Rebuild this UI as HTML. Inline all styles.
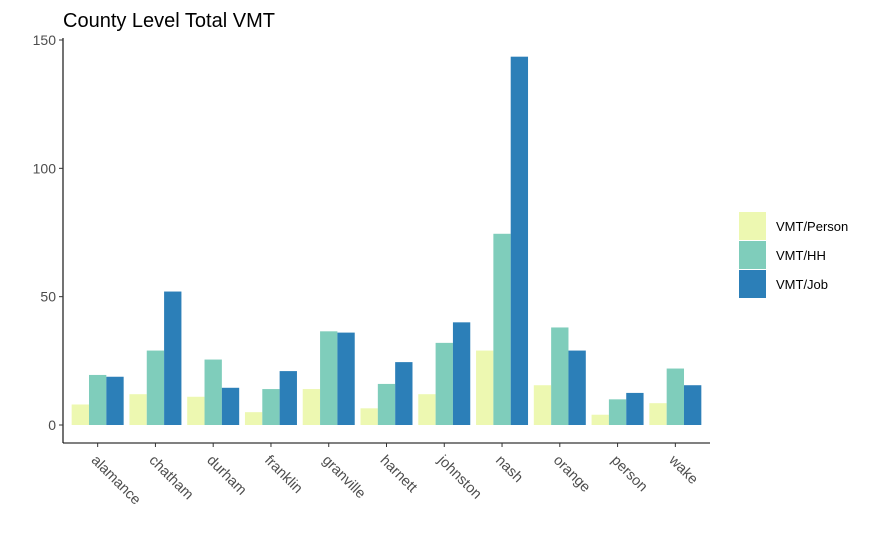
<!DOCTYPE html>
<html><head><meta charset="utf-8"><style>
body{margin:0;background:#fff;font-family:"Liberation Sans",Arial,sans-serif}
</style></head><body>
<svg id="c" width="875" height="540" xmlns="http://www.w3.org/2000/svg">
<rect width="875" height="540" fill="#fff"/>
<text x="63" y="27" font-size="20" fill="#000">County Level Total VMT</text>
<g id="plot"></g>
<g id="legend"></g>
</svg>
<script>
const categories=["alamance","chatham","durham","franklin","granville","harnett","johnston","nash","orange","person","wake"];
const vmtPerson=[8,12,11,5,14,6.5,12,29,15.5,4,8.5];
const vmtHH=[19.5,29,25.5,14,36.5,16,32,74.5,38,10,22];
const vmtJob=[18.8,52,14.5,21,36,24.5,40,143.5,29,12.5,15.5];
const seriesNames=["VMT/Person","VMT/HH","VMT/Job"];
const yTicks=[0,50,100,150];
const colors=["#EDF8B1","#7FCDBB","#2C7FB8"];
const NS="http://www.w3.org/2000/svg";
const L=63,R=710,B=443,T=38;
const y=v=>425-v*(385/150);
const band=(R-L)/(categories.length+0.2);
const x=i=>L+(0.6+i)*band;
const g=document.getElementById('plot');
function mk(t,a,p){const e=document.createElementNS(NS,t);for(const k in a)e.setAttribute(k,a[k]);(p||g).appendChild(e);return e;}
const series=[vmtPerson,vmtHH,vmtJob];
const bw=band*0.9/3;
series.forEach((s,si)=>{s.forEach((v,i)=>{
 const r=mk('rect',{x:x(i)-band*0.45+si*bw,y:y(v),width:bw,height:y(0)-y(v),fill:colors[si]});
 
 
});});
const ax=mk('line',{x1:L,y1:T,x2:L,y2:B,stroke:'#000','stroke-width':1.1});


const axx=mk('line',{x1:L,y1:B,x2:R,y2:B,stroke:'#000','stroke-width':1.1});


yTicks.forEach(t=>{
 mk('line',{x1:L-4,y1:y(t),x2:L,y2:y(t),stroke:'#333'});
 const tx=mk('text',{x:L-7,y:y(t)+5,'text-anchor':'end','font-size':14,fill:'#4d4d4d'});
 tx.textContent=t;
 
 
});
categories.forEach((c,i)=>{
 mk('line',{x1:x(i),y1:B,x2:x(i),y2:B+4,stroke:'#333'});
 const tx=mk('text',{x:x(i)-7,y:B+18,'font-size':14.5,fill:'#4d4d4d',transform:`rotate(45 ${x(i)-7} ${B+18})`});
 tx.textContent=c;
 
 
});
const lg=document.getElementById('legend');
seriesNames.forEach((n,i)=>{
 const r=mk('rect',{x:739,y:212+i*29,width:27,height:28,fill:colors[i]},lg);
 
 
 const t=mk('text',{x:776,y:231+i*29,'font-size':13,fill:'#000'},lg);
 t.textContent=n;
 
 
});
</script>
</body></html>
